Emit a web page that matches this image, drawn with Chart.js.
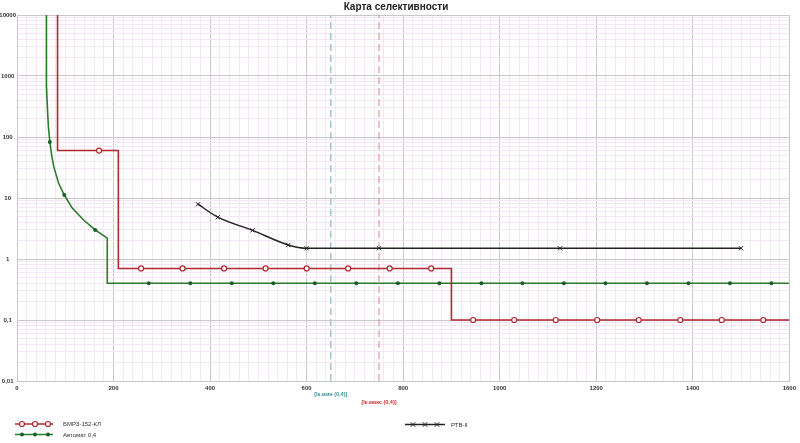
<!DOCTYPE html>
<html>
<head>
<meta charset="utf-8">
<script src="https://cdn.jsdelivr.net/npm/chart.js@4/dist/chart.umd.min.js"></script>
<style>
  html, body { margin: 0; padding: 0; background: #fff; }
  #wrap { width: 800px; height: 443px; }
</style>
</head>
<body>
<div id="wrap"><canvas id="chart" width="800" height="443"></canvas></div>
<script>
"use strict";

// Data

const titleText = "Карта селективности";

const xTicks = [0, 200, 400, 600, 800, 1000, 1200, 1400, 1600];
const yTicks = [0.01, 0.1, 1, 10, 100, 1000, 10000];
const yTickLabels = ["0,01", "0,1", "1", "10", "100", "1000", "10000"];

// БМРЗ-152-КЛ
const relayName = "БМРЗ-152-КЛ";
const relayX = [84, 84, 210, 210, 900, 900, 1600];
const relayY = [10000, 60, 60, 0.7, 0.7, 0.1, 0.1];
const relayMarkX = [170, 257, 343, 429, 515, 600, 686, 772, 858, 945, 1030, 1116, 1202, 1288, 1374, 1460, 1546];
const relayMarkY = [60, 0.7, 0.7, 0.7, 0.7, 0.7, 0.7, 0.7, 0.7, 0.1, 0.1, 0.1, 0.1, 0.1, 0.1, 0.1, 0.1];

// Автомат 0,4
const breakerName = "Автомат 0,4";
const breakerX = [61, 61, 63, 65, 68, 72, 76, 86, 98, 114, 138, 162, 187, 187, 1600];
const breakerY = [10000, 700, 300, 150, 83, 50, 33, 17.6, 11.2, 6.9, 4.36, 3, 2.2, 0.4, 0.4];
const breakerMarkX = [68, 98, 162, 273, 359, 445, 531, 617, 703, 789, 875, 962, 1047, 1133, 1219, 1305, 1391, 1477, 1563];
const breakerMarkY = [83, 11.2, 3, 0.4, 0.4, 0.4, 0.4, 0.4, 0.4, 0.4, 0.4, 0.4, 0.4, 0.4, 0.4, 0.4, 0.4, 0.4, 0.4];

// РТВ-II
const rtvName = "РТВ-II";
const rtvX = [375, 416, 488, 562, 600, 750, 1125, 1500];
const rtvY = [7.9, 4.85, 2.95, 1.7, 1.5, 1.5, 1.5, 1.5];

// Ik lines
const ikX = [650, 750];
const ikLabels = ["[Iк.мин (0,4)]", "[Iк.макс (0,4)]"];

// Colors

const red = "rgb(178,38,48)";
const green = "rgb(44,122,44)";
const greenDark = "rgb(24,96,36)";
const black = "#222";
const teal = "rgb(160,200,200)";
const tealText = "rgb(60,150,150)";
const pink = "rgb(228,128,128)";
const pinkText = "rgb(210,50,50)";
const gridMajor = "#c8c8c8";
const gridMinor = "rgb(243,230,245)";
const fontFamily = "'Liberation Sans', Arial, sans-serif";

const toPoints = (xs, ys) => xs.map((x, i) => ({ x, y: ys[i] }));

const isMajorLog = (v) =>
  Math.abs(Math.log10(v) - Math.round(Math.log10(v))) < 1e-9;

// Title, Ik labels and legend drawn onto the canvas

const drawMarker = (ctx, type, x, y) => {
  ctx.save();
  if (type === "red") {
    ctx.beginPath();
    ctx.arc(x, y, 2.5, 0, Math.PI * 2);
    ctx.fillStyle = "#fff";
    ctx.fill();
    ctx.lineWidth = 1.2;
    ctx.strokeStyle = red;
    ctx.stroke();
  } else if (type === "green") {
    ctx.beginPath();
    ctx.arc(x, y, 2, 0, Math.PI * 2);
    ctx.fillStyle = greenDark;
    ctx.fill();
  } else {
    ctx.beginPath();
    ctx.moveTo(x - 2.3, y - 2.3);
    ctx.lineTo(x + 2.3, y + 2.3);
    ctx.moveTo(x + 2.3, y - 2.3);
    ctx.lineTo(x - 2.3, y + 2.3);
    ctx.lineWidth = 1;
    ctx.strokeStyle = black;
    ctx.stroke();
  }
  ctx.restore();
};

const legendItems = [
  { name: relayName, type: "red", color: red, x0: 15, x1: 53, y: 424, marks: [22, 35, 48], tx: 63 },
  { name: breakerName, type: "green", color: green, x0: 15, x1: 53, y: 434.5, marks: [22, 35, 48], tx: 63 },
  { name: rtvName, type: "black", color: black, x0: 405, x1: 445, y: 424.5, marks: [413, 425, 437], tx: 451 },
];

const overlayPlugin = {
  id: "overlay",
  afterDraw(chart) {
    const ctx = chart.ctx;
    const xs = chart.scales.x;
    ctx.save();

    // title
    ctx.font = "bold 10px " + fontFamily;
    ctx.fillStyle = "#222";
    ctx.textAlign = "center";
    ctx.textBaseline = "middle";
    ctx.fillText(titleText, 396, 7);

    // Ik labels
    ctx.font = "bold 5.5px " + fontFamily;
    ctx.fillStyle = tealText;
    ctx.fillText(ikLabels[0], xs.getPixelForValue(ikX[0]), 394);
    ctx.fillStyle = pinkText;
    ctx.fillText(ikLabels[1], xs.getPixelForValue(ikX[1]), 402);

    // legend
    ctx.font = "6px " + fontFamily;
    ctx.textAlign = "left";
    legendItems.forEach((it) => {
      ctx.beginPath();
      ctx.moveTo(it.x0, it.y);
      ctx.lineTo(it.x1, it.y);
      ctx.lineWidth = 1.3;
      ctx.strokeStyle = it.color;
      ctx.stroke();
      it.marks.forEach((m) => drawMarker(ctx, it.type, m, it.y));
      ctx.fillStyle = "#333";
      ctx.fillText(it.name, it.tx, it.y + 0.5);
    });
    ctx.restore();
  },
};

const ctx = document.getElementById("chart").getContext("2d");
const myChart = new Chart(ctx, {
  type: "line",
  data: {
    datasets: [
      {
        data: toPoints([ikX[0], ikX[0]], [0.01, 10000]),
        borderColor: teal,
        borderWidth: 1.5,
        borderDash: [7, 4],
        pointRadius: 0,
        order: 10,
      },
      {
        data: toPoints([ikX[1], ikX[1]], [0.01, 10000]),
        borderColor: pink,
        borderWidth: 1,
        borderDash: [7, 4],
        pointRadius: 0,
        order: 10,
      },
      {
        label: relayName,
        data: toPoints(relayX, relayY),
        borderColor: red,
        borderWidth: 1.6,
        pointRadius: 0,
        order: 3,
      },
      {
        data: toPoints(relayMarkX, relayMarkY),
        showLine: false,
        pointStyle: "circle",
        pointRadius: 2.5,
        pointBackgroundColor: "#fff",
        pointBorderColor: red,
        pointBorderWidth: 1.2,
        order: 1,
      },
      {
        label: breakerName,
        data: toPoints(breakerX, breakerY),
        borderColor: green,
        borderWidth: 1.6,
        pointRadius: 0,
        order: 4,
      },
      {
        data: toPoints(breakerMarkX, breakerMarkY),
        showLine: false,
        pointStyle: "circle",
        pointRadius: 2,
        pointBackgroundColor: greenDark,
        pointBorderColor: greenDark,
        pointBorderWidth: 0,
        order: 2,
      },
      {
        label: rtvName,
        data: toPoints(rtvX, rtvY),
        borderColor: black,
        borderWidth: 1.5,
        cubicInterpolationMode: "monotone",
        pointStyle: "crossRot",
        pointRadius: 3,
        pointBorderColor: black,
        pointBorderWidth: 1,
        order: 2,
      },
    ],
  },
  options: {
    responsive: false,
    animation: false,
    events: [],
    layout: { padding: { top: 15, left: 0, right: 8, bottom: 0 } },
    plugins: {
      legend: { display: false },
      title: { display: false },
      tooltip: { enabled: false },
    },
    scales: {
      x: {
        type: "linear",
        min: 0,
        max: 1600,
        afterBuildTicks: (scale) => {
          const t = [];
          for (let v = 0; v <= 1600; v += 20) t.push({ value: v });
          scale.ticks = t;
        },
        afterFit: (scale) => {
          scale.height = 62;
        },
        grid: {
          drawTicks: false,
          color: (c) => (c.tick && c.tick.value % 200 === 0 ? gridMajor : gridMinor),
          lineWidth: 1,
        },
        border: { color: gridMajor },
        ticks: {
          autoSkip: false,
          maxRotation: 0,
          padding: 4,
          color: "#333",
          font: { size: 6, weight: "bold", family: fontFamily },
          callback: (v) => (xTicks.includes(v) ? String(v) : ""),
        },
      },
      y: {
        type: "logarithmic",
        min: 0.01,
        max: 10000,
        afterBuildTicks: (scale) => {
          const t = [];
          for (let e = -2; e <= 4; e++) {
            for (let m = 1; m <= 9; m++) {
              const v = Number((m * Math.pow(10, e)).toPrecision(6));
              if (v <= 10000) t.push({ value: v });
            }
          }
          scale.ticks = t;
        },
        afterFit: (scale) => {
          scale.width = 17;
        },
        grid: {
          drawTicks: false,
          color: (c) => (c.tick && isMajorLog(c.tick.value) ? gridMajor : gridMinor),
          lineWidth: 1,
        },
        border: { color: gridMajor },
        ticks: {
          autoSkip: false,
          crossAlign: "center",
          padding: 1,
          color: "#333",
          font: { size: 6, weight: "bold", family: fontFamily },
          callback: (v) => {
            if (!isMajorLog(v)) return "";
            const i = yTicks.findIndex((t) => Math.abs(t - v) / t < 1e-6);
            return i >= 0 ? yTickLabels[i] : "";
          },
        },
      },
    },
  },
  plugins: [overlayPlugin],
});
</script>
</body>
</html>
